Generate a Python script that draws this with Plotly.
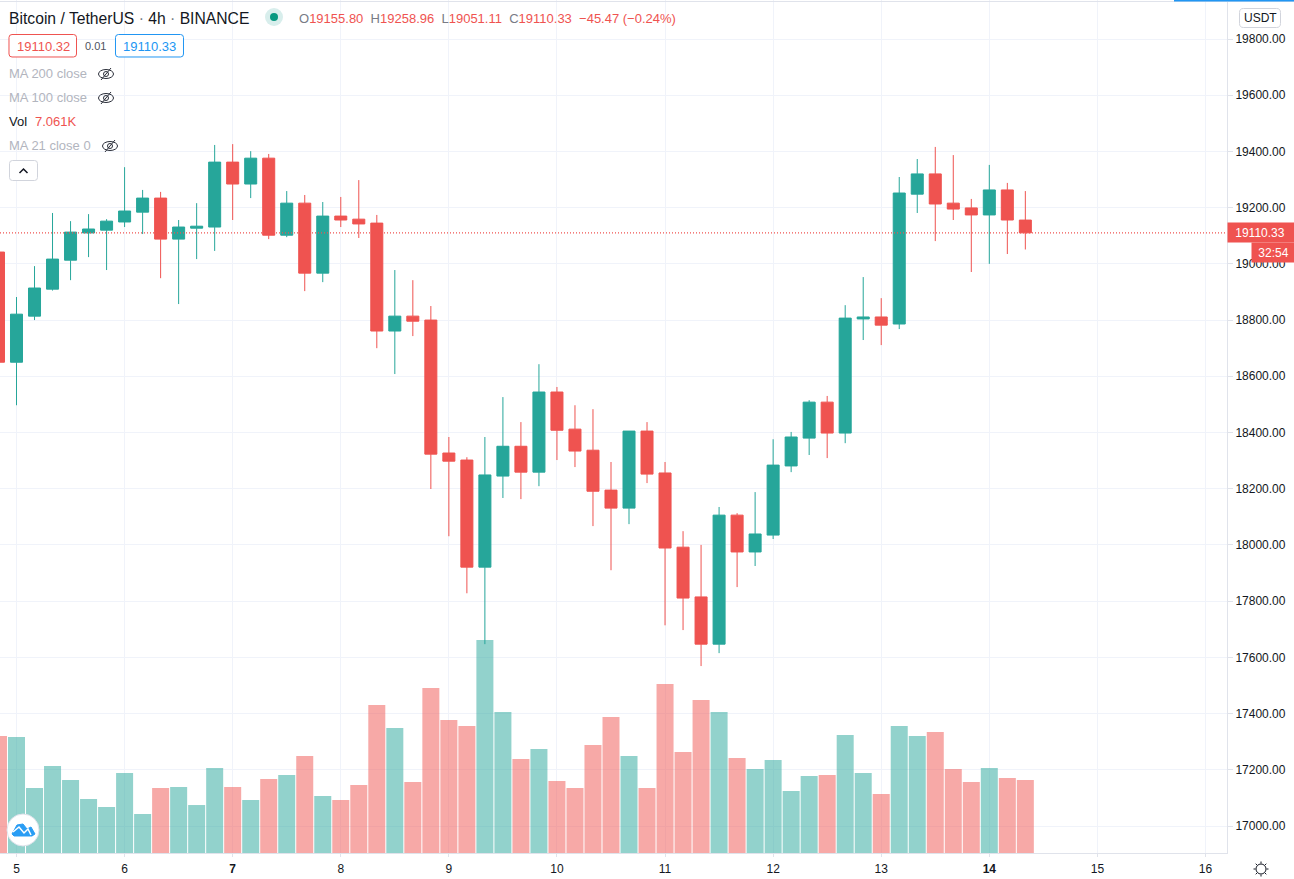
import pandas as pd
import plotly.graph_objects as go

# ---- data ----
start = "2020-12-04 20:00"
opens = [19042,18650,18814,18910,19013,19110,19120,19149,19184,19234,19088,19127,19131,19362,19284,19376,19102,19216,18967,19170,
         19159,19145,18761,18814,18800,18327,18302,17921,18245,18351,18259,18544,18412,18337,18195,18131,18405,18256,17992,17815,
         17647,18106,17975,18035,18281,18380,18508,18398,18804,18811,18786,19248,19320,19216,19199,19174,19263,19155.80]
highs = [19060,18882,18992,19181,19152,19177,19159,19344,19263,19256,19156,19216,19423,19426,19401,19391,19259,19245,19220,19238,
         19298,19174,18978,18942,18850,18384,18312,18384,18526,18437,18643,18562,18497,18483,18295,18405,18437,18295,18049,18000,
         18135,18113,18188,18376,18402,18515,18530,18853,18953,18878,19309,19373,19416,19387,19231,19352,19288,19258.96]
lows = [18640,18497,18800,18905,18942,19024,18978,19131,19106,18949,18857,19017,19046,19156,19234,19088,19095,18903,18935,19131,
        19092,18700,18608,18743,18199,18031,17828,17647,18167,18163,18209,18302,18277,18067,17910,18074,18220,17714,17697,17569,
        17615,17850,17925,18021,18259,18320,18309,18362,18729,18711,18768,19181,19081,19156,18971,19000,19035,19051.11]
closes = [18650,18821,18914,19017,19113,19124,19152,19188,19234,19088,19131,19134,19362,19284,19376,19102,19216,18967,19170,19156,
          19142,18761,18814,18796,18323,18298,17921,18249,18351,18259,18544,18408,18334,18191,18131,18405,18252,17989,17811,17647,
          18106,17975,18039,18284,18384,18508,18398,18807,18811,18782,19252,19320,19213,19195,19174,19263,19156,19110.33]
volumes = [11310,11220,6290,8410,7060,5220,4450,7740,3770,6290,6380,4640,8220,6380,5130,7160,7540,9380,5510,5130,
           6580,14310,12090,6870,15960,12860,12280,20600,13630,9090,10060,6960,6290,10440,13150,9380,6290,16340,9770,14800,
           13630,9190,8120,8990,6000,7450,7540,11410,7740,5710,12280,11310,11700,8120,6870,8220,7250,7061]
day_labels = ["5","6","<b>7</b>","8","9","10","11","12","13","<b>14</b>","15","16"]
price_ticks = [17000,17200,17400,17600,17800,18000,18200,18400,18600,18800,19000,19200,19400,19600,19800]
last_price = 19110.33
n = len(opens)

UP, DOWN = "#26a69a", "#ef5350"
W, H, AX_X, AX_Y = 1294, 879, 1227, 853
STEP = 18.015   # px per candle
FOUR_H = pd.Timedelta(hours=4)
times = pd.date_range(start, periods=n, freq="4h")
t0 = pd.Timestamp("2020-12-05 00:00")
ms4 = 4 * 3600 * 1000

def px(x): return x / AX_X
def py(y): return (AX_Y - y) / AX_Y

vol_colors = ["rgba(38,166,154,0.5)" if c >= o else "rgba(239,83,80,0.5)" for o, c in zip(opens, closes)]

fig = go.Figure()
fig.add_trace(go.Bar(x=times, y=volumes, width=17 / STEP * ms4, marker=dict(color=vol_colors, line_width=0),
                     yaxis="y", showlegend=False, hoverinfo="skip"))
fig.add_trace(go.Candlestick(x=times, open=opens, high=highs, low=lows, close=closes, yaxis="y2",
                             whiskerwidth=0, showlegend=False,
                             increasing=dict(line=dict(color=UP, width=1), fillcolor=UP),
                             decreasing=dict(line=dict(color=DOWN, width=1), fillcolor=DOWN)))

ticks_x = [t0 + pd.Timedelta(days=i) for i in range(len(day_labels))]
price_per_px = 2800 / 787
vol_per_px = 7061 / 73
annotations, shapes = [], []

def text(x, y, s, size=13, color="#131722", anchor="left"):
    annotations.append(dict(xref="paper", yref="paper", x=px(x), y=py(y), text=s, showarrow=False, xanchor=anchor,
                            yanchor="middle", align="left", font=dict(size=size, color=color), borderpad=0, borderwidth=0))

def rrect(x0, y0, x1, y1, r=3, line="#e0e3eb", fill="white", width=1):
    P = lambda a, b: f"{px(a):.5f},{py(b):.5f}"
    path = (f"M{P(x0+r,y0)} L{P(x1-r,y0)} Q{P(x1,y0)} {P(x1,y0+r)} L{P(x1,y1-r)} Q{P(x1,y1)} {P(x1-r,y1)} "
            f"L{P(x0+r,y1)} Q{P(x0,y1)} {P(x0,y1-r)} L{P(x0,y0+r)} Q{P(x0,y0)} {P(x0+r,y0)} Z")
    shapes.append(dict(type="path", xref="paper", yref="paper", path=path, line=dict(color=line, width=width), fillcolor=fill, layer="above"))

def seg(pts, color="#131722", width=1, fill=None):
    d = "M" + " L".join(f"{px(a):.5f},{py(b):.5f}" for a, b in pts) + (" Z" if fill else "")
    shapes.append(dict(type="path", xref="paper", yref="paper", path=d, line=dict(color=color, width=width),
                       fillcolor=fill if fill else "rgba(0,0,0,0)", layer="above"))

def circle(cx, cy, r, fill, line=None, lw=0):
    shapes.append(dict(type="circle", xref="paper", yref="paper", x0=px(cx - r), x1=px(cx + r), y0=py(cy - r), y1=py(cy + r),
                       fillcolor=fill, line=dict(color=line or fill, width=lw), layer="above"))

def eye(cx, cy):
    shapes.append(dict(type="circle", xref="paper", yref="paper", x0=px(cx - 7.5), x1=px(cx + 7.5), y0=py(cy - 4.5), y1=py(cy + 4.5),
                       fillcolor="rgba(0,0,0,0)", line=dict(color="#2a2e39", width=1), layer="above"))
    circle(cx, cy, 2.5, "rgba(0,0,0,0)", "#2a2e39", 1)
    seg([(cx - 5, cy + 6), (cx + 5, cy - 6)], "#2a2e39", 1)

# top border and strip
shapes.append(dict(type="line", xref="paper", yref="paper", x0=0, x1=W / AX_X, y0=py(1.5), y1=py(1.5), line=dict(color="#e0e3eb", width=1), layer="above"))
shapes.append(dict(type="line", xref="paper", yref="paper", x0=px(1174), x1=W / AX_X, y0=py(0.5), y1=py(0.5), line=dict(color="#2196f3", width=2), layer="above"))

# last-price line (price-scale driven)
shapes.append(dict(type="line", xref="paper", yref="y2", x0=0, x1=1, y0=last_price, y1=last_price,
                   line=dict(color=DOWN, width=1.3, dash="1px,2px"), layer="above"))
annotations.append(dict(xref="paper", yref="y2", x=px(1227), y=last_price, xanchor="left", yanchor="middle", text="19110.33&nbsp;",
                        showarrow=False, bgcolor=DOWN, font=dict(size=12, color="white"), width=63, height=15, borderpad=2, align="center"))
annotations.append(dict(xref="paper", yref="y2", x=px(1251), y=last_price, yshift=-20, xanchor="left", yanchor="middle", text="32:54",
                        showarrow=False, bgcolor=DOWN, font=dict(size=12, color="white"), width=39, height=15, borderpad=2, align="center"))

# header
text(9, 18, "Bitcoin / TetherUS <span style='color:#787b86'>·</span> 4h <span style='color:#787b86'>·</span> BINANCE", 15.7)
circle(274, 17, 9, "#d8eeec")
circle(274, 17, 4, "#089981")
G = "<span style='color:#787b86'>%s</span>"
R = "<span style='color:#ef5350'>%s</span>"
text(299, 18, G % "O" + R % "19155.80" + "  " + G % "H" + R % "19258.96" + "  " + G % "L" + R % "19051.11" + "  " + G % "C" + R % "19110.33&nbsp;&nbsp;−45.47 (−0.24%)", 13)
rrect(9, 34.5, 76.5, 57, line=DOWN)
text(43, 46, "19110.32", 13, DOWN, "center")
text(95.5, 45.5, "0.01", 11, "#50535e", "center")
rrect(115.5, 34.5, 183.5, 57, line="#2196f3")
text(149.5, 46, "19110.33", 13, "#2196f3", "center")
for y, s in [(73.5, "MA 200 close"), (97.5, "MA 100 close"), (145.5, "MA 21 close 0")]:
    text(9, y, s, 13, "#b2b5be")
eye(106, 74); eye(106, 98); eye(110, 146)
text(9, 121.5, "Vol", 13, "#131722")
text(35, 121.5, "7.061K", 13, DOWN)
rrect(9.5, 160.5, 37.5, 180.5, line="#d1d4dc")
seg([(19.5, 173), (23.5, 169), (27.5, 173)], "#131722", 1.5)

# USDT button
rrect(1239.5, 8.5, 1280.5, 27.5, r=4, line="#d1d4dc")
text(1260, 18, "USDT", 12, "#131722", "center")

# logo
circle(23, 830, 16, "white", "#e0e3eb", 1)
seg([(12, 834), (17, 825), (23, 824), (27, 829), (31, 827), (35, 834), (32, 836), (14, 836)], "#2a9df4", 1, "#2a9df4")
seg([(13, 832), (19, 827), (24, 833), (28, 829), (31, 835)], "white", 1.5)

# sun icon
circle(1261, 869, 5, "white", "#131722", 1)
seg([(1261, 861.5), (1261, 863.5)]); seg([(1261, 874.5), (1261, 876.5)])
seg([(1253.5, 869), (1255.5, 869)]); seg([(1266.5, 869), (1268.5, 869)])
seg([(1255.7, 863.7), (1257.2, 865.2)]); seg([(1264.8, 872.8), (1266.3, 874.3)])
seg([(1266.3, 863.7), (1264.8, 865.2)]); seg([(1257.2, 872.8), (1255.7, 874.3)])

fig.update_layout(
    width=W, height=H, margin=dict(l=0, r=W - AX_X, t=0, b=H - AX_Y, pad=0, autoexpand=False),
    paper_bgcolor="white", plot_bgcolor="white", showlegend=False, barmode="overlay",
    boxgap=0.333, boxgroupgap=0,
    font=dict(family="Liberation Sans, Arial, sans-serif", size=12, color="#131722"),
    hovermode=False,
    xaxis=dict(type="date", range=[t0 - FOUR_H * (16.5 / STEP), t0 + FOUR_H * ((AX_X - 16.5) / STEP)],
               tickmode="array", tickvals=ticks_x, ticktext=day_labels, tickangle=0,
               showgrid=True, gridcolor="#f0f3fa", gridwidth=1, zeroline=False,
               showline=True, linecolor="#e0e3eb", linewidth=1, ticks="outside", ticklen=3, tickcolor="#e0e3eb",
               ticklabelstandoff=2,
               rangeslider=dict(visible=False), tickfont=dict(size=12, color="#131722"), fixedrange=True),
    yaxis=dict(range=[0, AX_Y * vol_per_px], visible=False, fixedrange=True, showgrid=False, zeroline=False),
    yaxis2=dict(overlaying="y", side="right", anchor="x",
                range=[17000 - (AX_Y - 826) * price_per_px, 19800 + 39 * price_per_px],
                tickmode="array", tickvals=price_ticks, ticktext=[f"{v:.2f}" for v in price_ticks],
                showgrid=True, gridcolor="#f0f3fa", gridwidth=1, zeroline=False,
                showline=True, linecolor="#e0e3eb", linewidth=1, ticks="outside", ticklen=5, tickcolor="#e0e3eb",
                tickfont=dict(size=12, color="#131722"), fixedrange=True),
    annotations=annotations, shapes=shapes,
)
fig.write_html("out.html", config=dict(displayModeBar=False),
               post_script="document.body.style.margin='0';document.body.style.overflow='hidden';")
